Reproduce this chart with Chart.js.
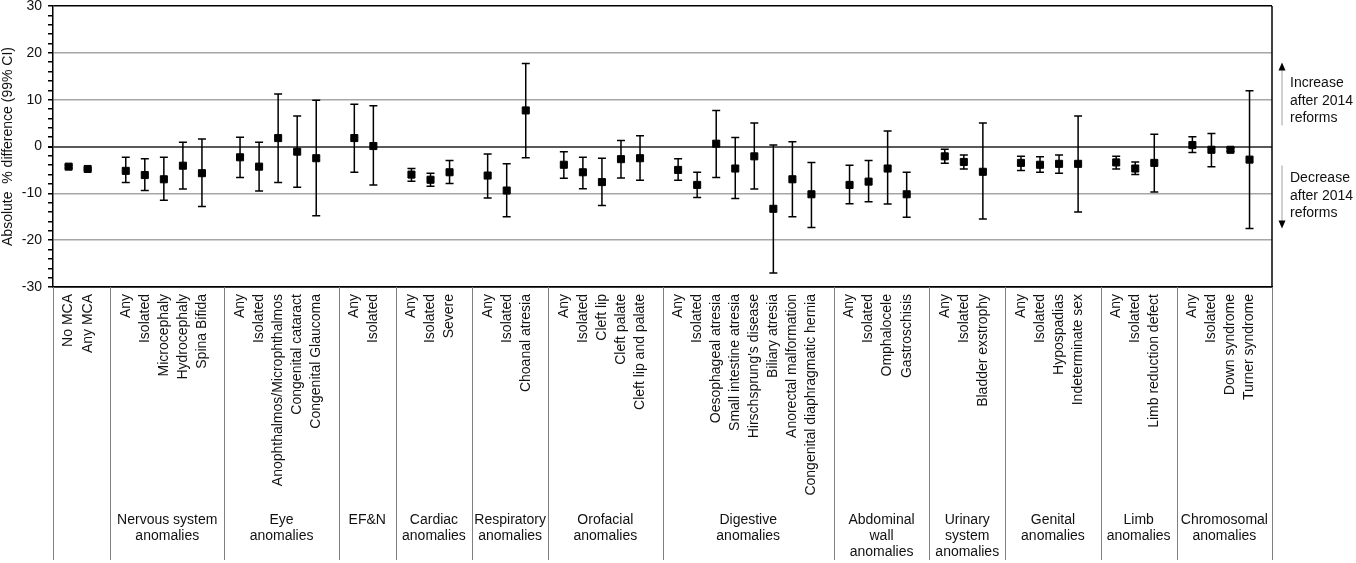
<!DOCTYPE html>
<html>
<head>
<meta charset="utf-8">
<script src="https://cdn.jsdelivr.net/npm/chart.js@4.4.1/dist/chart.umd.min.js"></script>
<style>
  html, body { margin: 0; padding: 0; background: #fff; }
  #wrap { position: relative; width: 1356px; height: 563px; }
</style>
</head>
<body>
<div id="wrap"><canvas id="chart"></canvas></div>
<script>
// anomaly groups (label under the axis) and how many categories each holds
const groupNames = ['', 'Nervous system\nanomalies', 'Eye\nanomalies', 'EF&N', 'Cardiac\nanomalies',
  'Respiratory\nanomalies', 'Orofacial\nanomalies', 'Digestive\nanomalies', 'Abdominal\nwall\nanomalies',
  'Urinary\nsystem\nanomalies', 'Genital\nanomalies', 'Limb\nanomalies', 'Chromosomal\nanomalies'];
const groupSizes = [2, 5, 5, 2, 3, 3, 5, 8, 4, 3, 4, 3, 4];

const categories = ['No MCA', 'Any MCA',
  'Any', 'Isolated', 'Microcephaly', 'Hydrocephaly', 'Spina Bifida',
  'Any', 'Isolated', 'Anophthalmos/Microphthalmos', 'Congenital cataract', 'Congenital Glaucoma',
  'Any', 'Isolated',
  'Any', 'Isolated', 'Severe',
  'Any', 'Isolated', 'Choanal atresia',
  'Any', 'Isolated', 'Cleft lip', 'Cleft palate', 'Cleft lip and palate',
  'Any', 'Isolated', 'Oesophageal atresia', 'Small intestine atresia', "Hirschsprung's disease",
  'Biliary atresia', 'Anorectal malformation', 'Congenital diaphragmatic hernia',
  'Any', 'Isolated', 'Omphalocele', 'Gastroschisis',
  'Any', 'Isolated', 'Bladder exstrophy',
  'Any', 'Isolated', 'Hypospadias', 'Indeterminate sex',
  'Any', 'Isolated', 'Limb reduction defect',
  'Any', 'Isolated', 'Down syndrome', 'Turner syndrome'];

// absolute % difference and 99% CI
const estimates = [-4.3, -4.8,
  -5.2, -6.1, -7.0, -4.1, -5.7,
  -2.3, -4.3, 1.8, -1.1, -2.5,
  1.8, 0.1,
  -6.0, -7.1, -5.5,
  -6.2, -9.4, 7.7,
  -3.9, -5.5, -7.6, -2.7, -2.5,
  -5.0, -8.2, 0.6, -4.7, -2.1, -13.3, -7.0, -10.2,
  -8.2, -7.5, -4.7, -10.2,
  -2.1, -3.3, -5.4,
  -3.5, -3.9, -3.7, -3.7,
  -3.4, -4.7, -3.5,
  0.3, -0.7, -0.7, -2.8];
const lower = [-4.6, -5.0,
  -7.7, -9.4, -11.5, -9.1, -12.8,
  -6.6, -9.5, -7.7, -8.7, -14.8,
  -5.5, -8.2,
  -7.4, -8.5, -7.9,
  -11.0, -15.0, -2.4,
  -6.8, -9.0, -12.6, -6.7, -7.2,
  -7.2, -10.9, -6.6, -11.1, -9.1, -27.0, -15.0, -17.3,
  -12.2, -11.8, -12.3, -15.1,
  -3.6, -4.8, -15.5,
  -5.1, -5.5, -5.7, -14.0,
  -4.8, -6.0, -9.7,
  -1.3, -4.3, -1.0, -17.5];
const upper = [-4.0, -4.6,
  -2.3, -2.6, -2.3, 0.9, 1.6,
  2.0, 0.9, 11.2, 6.5, 9.9,
  9.0, 8.7,
  -4.7, -5.7, -3.0,
  -1.6, -3.7, 17.7,
  -1.1, -2.3, -2.5, 1.3, 2.3,
  -2.6, -5.5, 7.7, 1.9, 5.0, 0.3, 1.0, -3.4,
  -4.0, -3.0, 3.3, -5.5,
  -0.6, -1.8, 5.0,
  -2.1, -2.2, -1.8, 6.5,
  -2.1, -3.3, 2.6,
  2.1, 2.8, -0.4, 11.9];

const yMajorTicks = [-30, -20, -10, 0, 10, 20, 30];
const yMinorStep = 2;
const yTitle = 'Absolute  % difference (99% CI)';
const upNote = ['Increase', 'after 2014', 'reforms'];
const downNote = ['Decrease', 'after 2014', 'reforms'];

// x position of each category: one empty slot between groups
const slots = [];
const groupFirst = [];
let pos = 0;
groupSizes.forEach(function(n) {
  groupFirst.push(pos);
  for (let i = 0; i < n; i++) slots.push(pos++);
  pos++;
});
const sepShift = 0.18;
const xMin = -1 + sepShift;
const xMax = slots[slots.length - 1] + 1 + sepShift;

const labelAt = {};
slots.forEach(function(s, i) { labelAt[s] = categories[i]; });

const FONT = "'Liberation Sans', Arial, sans-serif";

const decorPlugin = {
  id: 'decor',
  beforeDatasetsDraw(chart) {
    const ctx = chart.ctx, xs = chart.scales.x, ys = chart.scales.y;
    ctx.save();
    ctx.strokeStyle = '#000';
    ctx.lineWidth = 1.5;
    slots.forEach(function(s, i) {
      const px = xs.getPixelForValue(s);
      const t = ys.getPixelForValue(upper[i]);
      const b = ys.getPixelForValue(lower[i]);
      ctx.beginPath();
      ctx.moveTo(px, t); ctx.lineTo(px, b);
      ctx.moveTo(px - 4, t); ctx.lineTo(px + 4, t);
      ctx.moveTo(px - 4, b); ctx.lineTo(px + 4, b);
      ctx.stroke();
    });
    ctx.restore();
  },
  afterDraw(chart) {
    const ctx = chart.ctx, xs = chart.scales.x, ys = chart.scales.y;
    const area = chart.chartArea;
    const bottom = chart.height - 3;
    ctx.save();

    // group separators down through the label area
    ctx.strokeStyle = '#808080';
    ctx.lineWidth = 1;
    const seps = [xMin];
    groupSizes.forEach(function(n, g) { seps.push(groupFirst[g] + n + sepShift); });
    seps.forEach(function(v) {
      const px = Math.round(xs.getPixelForValue(v)) + 0.5;
      ctx.beginPath();
      ctx.moveTo(px, area.bottom);
      ctx.lineTo(px, bottom);
      ctx.stroke();
    });

    // right frame
    ctx.strokeStyle = '#000';
    ctx.lineWidth = 1.5;
    ctx.beginPath();
    ctx.moveTo(area.right, area.top);
    ctx.lineTo(area.right, area.bottom);
    ctx.stroke();

    // group names
    ctx.fillStyle = '#111';
    ctx.font = '14px ' + FONT;
    ctx.textAlign = 'center';
    ctx.textBaseline = 'middle';
    groupNames.forEach(function(name, g) {
      if (!name) return;
      const mid = groupFirst[g] + (groupSizes[g] - 1) / 2 + sepShift;
      const px = xs.getPixelForValue(mid);
      name.split('\n').forEach(function(line, k) {
        ctx.fillText(line, px, 520 + k * 16);
      });
    });

    // increase / decrease notes
    const zero = ys.getPixelForValue(0);
    const ax = area.right + 10;
    ctx.strokeStyle = '#a0a0a0';
    ctx.lineWidth = 1;
    ctx.beginPath();
    ctx.moveTo(ax, zero - 21); ctx.lineTo(ax, zero - 78);
    ctx.moveTo(ax, zero + 19); ctx.lineTo(ax, zero + 76);
    ctx.stroke();
    ctx.fillStyle = '#000';
    ctx.beginPath();
    ctx.moveTo(ax, zero - 84); ctx.lineTo(ax - 3.5, zero - 76); ctx.lineTo(ax + 3.5, zero - 76);
    ctx.closePath();
    ctx.moveTo(ax, zero + 82); ctx.lineTo(ax - 3.5, zero + 74); ctx.lineTo(ax + 3.5, zero + 74);
    ctx.closePath();
    ctx.fill();
    ctx.fillStyle = '#111';
    ctx.textAlign = 'left';
    upNote.forEach(function(line, k) { ctx.fillText(line, ax + 8, zero - 63 + k * 17.5); });
    downNote.forEach(function(line, k) { ctx.fillText(line, ax + 8, zero + 32 + k * 17.5); });
    ctx.restore();
  }
};

const yTickValues = [];
for (let v = yMajorTicks[0]; v <= yMajorTicks[yMajorTicks.length - 1]; v += yMinorStep) yTickValues.push(v);

new Chart(document.getElementById('chart'), {
  type: 'scatter',
  data: {
    datasets: [{
      data: slots.map(function(s, i) { return { x: s, y: estimates[i] }; }),
      pointStyle: 'rect',
      pointRadius: 5,
      pointHoverRadius: 5,
      backgroundColor: '#000',
      borderColor: '#000',
      borderWidth: 1
    }]
  },
  options: {
    responsive: true,
    maintainAspectRatio: false,
    animation: false,
    layout: { padding: { top: 5, right: 84, left: 0, bottom: 0 } },
    plugins: {
      legend: { display: false },
      tooltip: { enabled: false }
    },
    scales: {
      x: {
        type: 'linear',
        min: xMin,
        max: xMax,
        afterBuildTicks: function(scale) {
          scale.ticks = slots.map(function(s) { return { value: s }; });
        },
        afterFit: function(scale) {
          scale.height = 276;
          scale.paddingLeft = 0;
          scale.paddingRight = 0;
        },
        grid: { display: false, drawTicks: false },
        border: { display: true, color: '#000', width: 1.5 },
        ticks: {
          autoSkip: false,
          minRotation: 90,
          maxRotation: 90,
          padding: 7,
          color: '#111',
          font: { family: FONT, size: 14 },
          callback: function(value) { return labelAt[value] || ''; }
        }
      },
      y: {
        min: yMajorTicks[0],
        max: yMajorTicks[yMajorTicks.length - 1],
        afterBuildTicks: function(scale) {
          scale.ticks = yTickValues.map(function(v) { return { value: v }; });
        },
        afterFit: function(scale) {
          scale.width = 53;
          scale.paddingTop = 0;
          scale.paddingBottom = 0;
        },
        grid: {
          color: function(c) {
            const v = c.tick.value;
            if (Math.abs(v) === 30) return '#000';
            if (v === 0) return '#595959';
            return v % 10 === 0 ? '#a6a6a6' : 'rgba(0,0,0,0)';
          },
          lineWidth: function(c) { return c.tick.value === 0 ? 2 : 1.5; },
          tickColor: '#000',
          tickLength: 5,
          drawTicks: true
        },
        border: { display: true, color: '#000', width: 1.5 },
        ticks: {
          autoSkip: false,
          padding: 6,
          color: '#111',
          font: { family: FONT, size: 14 },
          callback: function(value) { return yMajorTicks.indexOf(value) >= 0 ? value : ''; }
        },
        title: {
          display: true,
          text: yTitle,
          color: '#111',
          font: { family: FONT, size: 14 },
          padding: { top: 0, bottom: 0 }
        }
      }
    }
  },
  plugins: [decorPlugin]
});
</script>
</body>
</html>
